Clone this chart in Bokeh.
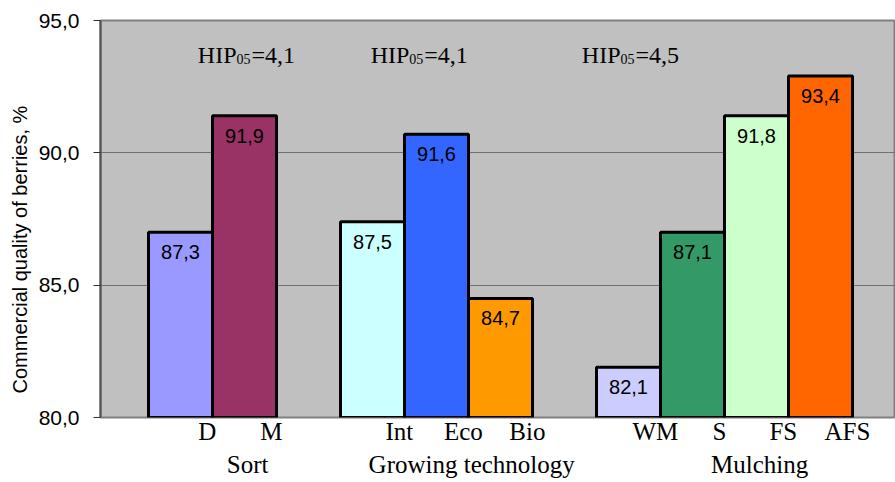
from bokeh.plotting import figure
from bokeh.models import ColumnDataSource, FixedTicker, Range1d, LabelSet
from bokeh.core.properties import value
from bokeh.embed import file_html
from bokeh.resources import INLINE

# ---- data ----
groups = ["Sort", "Growing technology", "Mulching"]
group_members = [["D", "M"], ["Int", "Eco", "Bio"], ["WM", "S", "FS", "AFS"]]
bar_heights = [87.0, 91.4, 87.4, 90.7, 84.5, 81.9, 87.0, 91.4, 92.9]
value_labels = ["87,3", "91,9", "87,5", "91,6", "84,7", "82,1", "87,1", "91,8", "93,4"]
bar_colors = ["#9999FF", "#993366", "#CCFFFF", "#3366FF", "#FF9900",
              "#CCCCFF", "#339966", "#CCFFCC", "#FF6600"]
hip_main = ["HIP", "HIP", "HIP"]
hip_sub = ["05", "05", "05"]
hip_vals = ["=4,1", "=4,1", "=4,5"]
hip_y = 93.4
y_ticks = [80, 85, 90, 95]
y_tick_labels = ["80,0", "85,0", "90,0", "95,0"]
y_title = "Commercial quality of berries, %"

# ---- layout of categories (one bar width per unit, one empty unit between groups) ----
cats, xs, group_centers = [], [], []
cursor = 1.25
for members in group_members:
    start = cursor
    for m in members:
        cats.append(m)
        xs.append(cursor)
        cursor += 1
    group_centers.append((start + cursor - 1) / 2)
    cursor += 1

pos = dict(zip(cats, xs))
hip_x = [pos["M"], pos["Int"] + 0.7, pos["WM"]]

bars = ColumnDataSource(dict(x=xs, top=bar_heights, color=bar_colors,
                             lab=value_labels, cat=cats))

W, H = 895, 482
left, top, bottom = 100, 20, 65
frame_w = W - left
px_per_unit = 64.0

p = figure(width=W, height=H, output_backend="svg", toolbar_location=None,
           x_range=Range1d(0, frame_w / px_per_unit), y_range=Range1d(80, 95),
           min_border_left=left, min_border_right=0, min_border_top=top,
           min_border_bottom=bottom)

p.background_fill_color = "#C0C0C0"
p.border_fill_color = "white"
p.outline_line_color = "#808080"
p.outline_line_width = 2

p.vbar(x="x", top="top", bottom=80, width=1.0, source=bars,
       fill_color="color", line_color="black", line_width=3)

p.xgrid.visible = False
p.ygrid.ticker = FixedTicker(ticks=[85, 90])
p.ygrid.grid_line_color = "#707070"
p.ygrid.grid_line_width = 1

# y axis
ya = p.yaxis[0]
ya.ticker = FixedTicker(ticks=y_ticks)
ya.major_label_overrides = dict(zip(y_ticks, y_tick_labels))
ya.minor_tick_line_color = None
ya.major_tick_in = 0
ya.major_tick_out = 7
ya.major_tick_line_color = "#303030"
ya.axis_line_color = "#505050"
ya.axis_line_width = 2
ya.major_label_text_font = "Liberation Sans"
ya.major_label_text_font_size = "21px"
ya.major_label_text_color = "black"
ya.major_label_standoff = 14
# trailing no-break spaces push the centred title a little lower, as in the source
ya.axis_label = y_title + "\u00a0" * 11
ya.axis_label_text_font = "Liberation Sans"
ya.axis_label_text_font_size = "20px"
ya.axis_label_text_font_style = "normal"
ya.axis_label_text_color = "black"
ya.axis_label_standoff = 5

# one x axis carrying both the category labels (1st line) and group titles (2nd line)
cat_ticks = [x + 0.42 for x in xs]
g_ticks = [c + 0.55 for c in group_centers]
labels = dict(zip(cat_ticks, cats))
labels.update({t: "\n" + g for t, g in zip(g_ticks, groups)})
xa = p.xaxis[0]
xa.ticker = FixedTicker(ticks=sorted(cat_ticks + g_ticks))
xa.major_label_overrides = labels
xa.axis_line_color = None
xa.major_tick_line_color = None
xa.minor_tick_line_color = None
xa.major_tick_out = 0
xa.major_tick_in = 0
xa.major_label_text_font = "Liberation Serif"
xa.major_label_text_font_size = "25px"
xa.major_label_text_color = "black"
xa.major_label_text_line_height = 1.25
xa.major_label_standoff = 0

# value labels inside the bars
p.add_layout(LabelSet(x="x", y="top", text="lab", source=bars,
                      text_align="center", text_baseline="top", y_offset=-13,
                      text_font=value("Liberation Sans"), text_font_size="20px",
                      text_color="black"))

# HIP05 annotations: main text, subscript, value
hsrc = ColumnDataSource(dict(x=hip_x, y=[hip_y] * 3, m=hip_main, s=hip_sub, v=hip_vals))
p.add_layout(LabelSet(x="x", y="y", text="m", source=hsrc, text_align="right",
                      text_baseline="alphabetic", x_offset=-8,
                      text_font=value("Liberation Serif"), text_font_size="24px",
                      text_color="black"))
p.add_layout(LabelSet(x="x", y="y", text="s", source=hsrc, text_align="left",
                      text_baseline="alphabetic", x_offset=-8, y_offset=-1,
                      text_font=value("Liberation Serif"), text_font_size="14px",
                      text_color="black"))
p.add_layout(LabelSet(x="x", y="y", text="v", source=hsrc, text_align="left",
                      text_baseline="alphabetic", x_offset=7,
                      text_font=value("Liberation Serif"), text_font_size="24px",
                      text_color="black"))

open("out.html", "w").write(file_html(p, INLINE))
